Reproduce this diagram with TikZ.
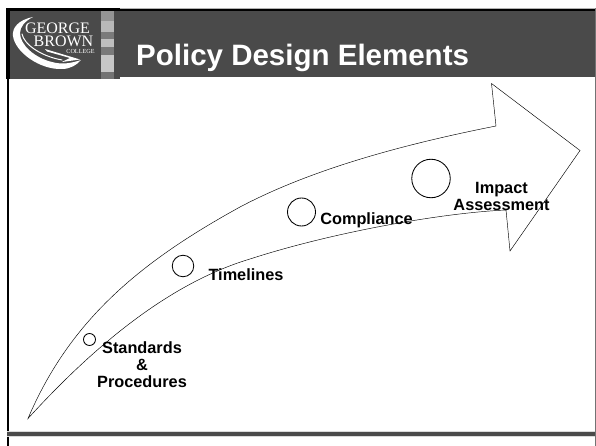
\documentclass[tikz,border=0pt]{standalone}
\usepackage{fontspec}
\setmainfont{Liberation Sans}
\newfontfamily\logofont{Liberation Serif}
\definecolor{hdr}{gray}{0.29}
\tikzset{
  px/.style={x=1pt,y=-1pt},
  lbl/.style={font=\fontsize{16.3}{17}\selectfont\bfseries,align=center,inner sep=0pt,text=black},
  ring/.style={circle,draw=black,line width=0.85pt,fill=none,inner sep=0pt},
  arrowline/.style={draw=black,line width=0.45pt,line join=miter},
  swoosh/.style={draw=white,line cap=round,line join=round}
}
\begin{document}
\begin{tikzpicture}[px]
\useasboundingbox (0,0) rectangle (596,446);
\fill[white] (0,0) rectangle (596,446);
% header
\fill[hdr] (7,10) rectangle (120,79);
\fill[hdr] (120,10) rectangle (596,77);
\fill[black!30] (120,8) rectangle (596,9);
\fill[black] (120,9) rectangle (596,11.5);
\fill[black] (6,8) rectangle (120,11.5);
\fill[black] (6,8) rectangle (9.5,79);
% stripe
\fill[black!28] (101,11.5) rectangle (114,32);
\fill[black!42] (101,11.5) rectangle (114,21);
\fill[black!52] (101,32) rectangle (114,39);
\fill[black!25] (101,39) rectangle (114,47);
\fill[black!52] (101,47) rectangle (114,55);
\fill[black!22] (101,55) rectangle (114,72);
\fill[black!55] (101,72) rectangle (114,79);
% frame
\fill[black] (6.5,79) rectangle (9,446);
\fill[black!15] (7,430.5) rectangle (596,436.5);
\fill[hdr] (7,431.5) rectangle (596,435.5);
\fill[black!55] (595,8) rectangle (596,446);
% logo
\fill[white] (33,17) .. controls (18,20) and (12,28) .. (13,36) .. controls (15,52) and (40,70) .. (62,69) .. controls (70,69) and (77,65) .. (81,60) .. controls (72,63) and (62,65) .. (52,62) .. controls (35,58) and (20,45) .. (20,33) .. controls (20,27) and (25,21) .. (33,17) -- cycle;
\fill[white] (45,49) -- (80,59.5) -- (62,62) -- (70,58) -- (47,51.5) -- cycle;
\draw[swoosh,line width=1pt] (22,34) .. controls (24,44) and (40,56) .. (62,60);
\node[inner sep=0pt,text=white,font=\logofont\fontsize{16}{11}\selectfont] (lg) at (57.5,28.5) {GEORGE};
\node[inner sep=0pt,text=white,font=\logofont\fontsize{16}{11}\selectfont] (lb) at (63.5,41.5) {BROWN};
\node[inner sep=0pt,text=white,font=\logofont\fontsize{6.2}{4}\selectfont] (lc) at (80.5,51.5) {COLLEGE};
% title
\node[inner sep=0pt,anchor=base west,text=white,font=\fontsize{29.5}{32}\selectfont\bfseries] (title) at (136,65.5) {Policy Design Elements};
% big arrow
\coordinate (tail) at (28,418.5);
\coordinate (headtop) at (491.5,83.5);
\coordinate (notchtop) at (496,126);
\coordinate (tip) at (580,150.5);
\coordinate (headbot) at (510,251);
\coordinate (notchbot) at (506,210);
\path[arrowline] (tail) .. controls (70,320) and (140,262) .. (240,207) .. controls (310,170) and (400,145) .. (notchtop) -- (headtop) -- (tip) -- (headbot) -- (notchbot) .. controls (440,213) and (330,233) .. (250,259) .. controls (170,283) and (95,345) .. (tail) -- cycle;
% rings
\node[ring,minimum size=12pt] (c1) at (89.5,339.5) {};
\node[ring,minimum size=21.5pt] (c2) at (183,266) {};
\node[ring,minimum size=28pt] (c3) at (301.5,212) {};
\node[ring,minimum size=38.5pt] (c4) at (431,178.5) {};
% labels
\node[lbl] (t1) at (142,365) {Standards\\\&\\Procedures};
\node[lbl] (t2) at (246,274.5) {Timelines};
\node[lbl] (t3) at (366.5,220.5) {Compliance};
\node[lbl] (t4) at (501.5,196) {Impact\\Assessment};
\end{tikzpicture}
\end{document}
